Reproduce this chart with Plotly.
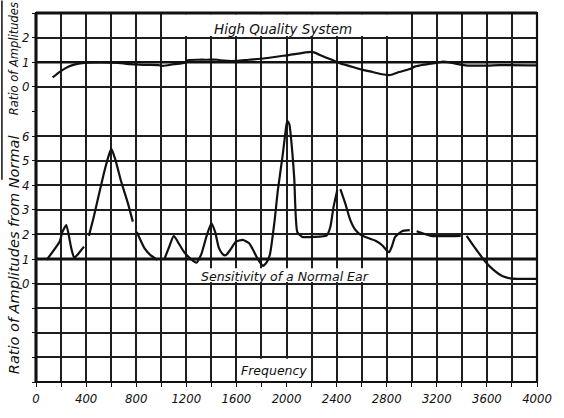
import plotly.graph_objects as go

# ---- frequency axis ----
freq_ticks = list(range(0, 4001, 200))
freq_labels = [str(f) if f % 400 == 0 else "" for f in freq_ticks]

# ---- upper panel: high quality system, ratio of amplitudes ----
hq_freq = [133, 195, 258, 320, 367, 420, 500, 600, 700, 750, 820, 900, 977, 1016, 1100,
           1188, 1211, 1300, 1367, 1450, 1500, 1600, 1700, 1828, 2000, 2195, 2219, 2300,
           2375, 2430, 2500, 2600, 2688, 2750, 2828, 2900, 2984, 3023, 3100, 3195, 3250,
           3320, 3390, 3430, 3600, 3700, 4000]
hq_ratio = [0.38, 0.63, 0.82, 0.92, 0.96, 0.98, 0.99, 0.98, 0.95, 0.92, 0.90, 0.89, 0.88,
            0.85, 0.92, 0.98, 1.08, 1.10, 1.10, 1.10, 1.06, 1.05, 1.10, 1.16, 1.28, 1.42,
            1.40, 1.22, 1.07, 0.95, 0.85, 0.70, 0.60, 0.52, 0.48, 0.60, 0.72, 0.82, 0.90,
            0.97, 1.02, 0.97, 0.90, 0.87, 0.86, 0.88, 0.87]

# ---- lower panel: ratio of amplitudes from normal (None = break in the trace) ----
dev_freq = [86, 188, 211, 242, 281, 305, 344, 383, None,
            422, 461, 500, 550, 590, 602, 633, 680, 734, 773, None,
            805, 867, 914, 969, None,
            1023, 1060, 1100, 1141, 1180, 1203, 1242, 1281, 1320, 1360, 1400, 1430, 1460,
            1490, 1515, 1555, 1594, 1650, 1700, 1727, 1760, 1790, 1812, 1840, 1867, 1906,
            1930, 1969, 2000, 2008, 2023, 2047, 2062, 2086, 2125, 2219, 2320, 2350, 2375,
            2405, None,
            2430, 2469, 2508, 2547, 2586, 2625, 2711, 2766, 2805, 2820, 2844, 2867, 2922,
            2984, None,
            3039, 3156, 3391, None,
            3438, 3508, 3586, 3648, 3727, 3805, 3992]
dev_ratio = [0.97, 1.70, 2.10, 2.38, 1.45, 1.05, 1.25, 1.50, None,
             1.94, 2.71, 3.57, 4.65, 5.35, 5.48, 5.05, 4.15, 3.26, 2.52, None,
             2.10, 1.43, 1.16, 0.97, None,
             0.97, 1.45, 1.94, 1.62, 1.30, 1.16, 0.97, 0.85, 1.20, 1.90, 2.45, 2.10, 1.45,
             1.20, 1.15, 1.40, 1.70, 1.78, 1.65, 1.43, 1.10, 0.85, 0.72, 0.85, 1.17, 2.60,
             3.76, 5.20, 6.47, 6.60, 6.47, 5.30, 4.27, 2.10, 1.90, 1.90, 1.95, 2.30, 3.10,
             3.80, None,
             3.84, 3.26, 2.60, 2.20, 2.00, 1.90, 1.74, 1.55, 1.32, 1.28, 1.55, 1.90, 2.13,
             2.17, None,
             2.13, 1.94, 1.94, None,
             1.94, 1.43, 0.90, 0.58, 0.30, 0.20, 0.19]

# ---- tick labels ----
lower_ticks = list(range(-4, 8))
lower_labels = [str(v) if 0 <= v <= 6 else "" for v in lower_ticks]
upper_ticks = list(range(-1, 4))
upper_labels = [str(v) if 0 <= v <= 2 else "" for v in upper_ticks]

INK = "#111111"
GRID = "#1e1e1e"
FONT = "DejaVu Sans Condensed, Liberation Sans Narrow, DejaVu Sans"
TITLE_FONT = "DejaVu Sans"

fig = go.Figure()

# normal-ear reference levels
fig.add_trace(go.Scatter(x=[0, 4000], y=[1, 1], mode="lines", xaxis="x", yaxis="y",
                         line=dict(color=INK, width=3), hoverinfo="skip"))
fig.add_trace(go.Scatter(x=[0, 4000], y=[1, 1], mode="lines", xaxis="x", yaxis="y2",
                         line=dict(color=INK, width=2.4), hoverinfo="skip"))

fig.add_trace(go.Scatter(x=hq_freq, y=hq_ratio, mode="lines", xaxis="x", yaxis="y2",
                         line=dict(color=INK, width=2.2, shape="spline", smoothing=0.6)))
fig.add_trace(go.Scatter(x=dev_freq, y=dev_ratio, mode="lines", xaxis="x", yaxis="y",
                         connectgaps=False,
                         line=dict(color=INK, width=2.2, shape="spline", smoothing=0.5)))

axis_common = dict(showgrid=True, gridcolor=GRID, gridwidth=1.6, zeroline=False,
                   showline=False, ticks="outside", tickcolor=INK,
                   tickfont=dict(family=FONT, size=13, color=INK, style="italic"))

white_box = dict(type="rect", fillcolor="white", line=dict(width=0), layer="above")

fig.update_layout(
    width=564, height=418, autosize=False,
    margin=dict(l=36, r=16, t=13, b=18),
    paper_bgcolor="white", plot_bgcolor="white",
    showlegend=False,
    xaxis=dict(range=[0, 4000], tickvals=freq_ticks, ticktext=freq_labels,
               ticklen=4, anchor="y", **axis_common),
    yaxis=dict(domain=[0, 11 / 15], range=[-4, 7], tickvals=lower_ticks,
               ticktext=lower_labels, ticklen=3, anchor="x", **axis_common),
    yaxis2=dict(domain=[11 / 15, 1], range=[-1, 3], tickvals=upper_ticks,
                ticktext=upper_labels, ticklen=3, anchor="x", **axis_common),
    shapes=[
        # clear areas of the grid behind the lettering
        dict(xref="x", yref="y2", x0=1100, x1=2900, y0=2.06, y1=2.95, **white_box),
        dict(xref="x", yref="y", x0=1230, x1=2790, y0=0.07, y1=0.62, **white_box),
        dict(xref="x", yref="y", x0=1620, x1=2180, y0=-3.96, y1=-3.05, **white_box),
        # frame
        dict(type="rect", xref="paper", yref="paper", x0=0, x1=1, y0=0, y1=1,
             line=dict(color=INK, width=2.2), layer="above"),
        dict(type="line", xref="paper", yref="paper", x0=0, x1=0, y0=0, y1=1,
             line=dict(color=INK, width=3), layer="above"),
        dict(type="line", xref="paper", yref="paper", x0=0, x1=1, y0=1, y1=1,
             line=dict(color=INK, width=3), layer="above"),
        # rule at the left edge of the sheet
        dict(type="line", xref="paper", yref="paper", x0=-0.068, x1=-0.068,
             y0=1.034, y1=0.548, line=dict(color=INK, width=1.5), layer="above"),
    ],
    annotations=[
        dict(text="High Quality System", xref="x", yref="y2", x=1970, y=2.33,
             xanchor="center", showarrow=False,
             font=dict(family=TITLE_FONT, size=13.5, color=INK, style="italic")),
        dict(text="Sensitivity of a Normal Ear", xref="x", yref="y", x=1990, y=0.3,
             xanchor="center", showarrow=False,
             font=dict(family=TITLE_FONT, size=12.5, color=INK, style="italic")),
        dict(text="Frequency", xref="x", yref="y", x=1900, y=-3.52,
             xanchor="center", showarrow=False,
             font=dict(family=TITLE_FONT, size=12.5, color=INK, style="italic")),
        dict(text="Ratio of Amplitudes", xref="paper", yref="paper", x=-0.045, y=0.876,
             xanchor="center", yanchor="middle", textangle=-90, showarrow=False,
             font=dict(family=TITLE_FONT, size=11.5, color=INK, style="italic")),
        dict(text="Ratio of Amplitudes from Normal", xref="paper", yref="paper",
             x=-0.045, y=0.345, xanchor="center", yanchor="middle", textangle=-90,
             showarrow=False,
             font=dict(family=TITLE_FONT, size=14.5, color=INK, style="italic")),
    ],
)

fig.write_html("out.html")
